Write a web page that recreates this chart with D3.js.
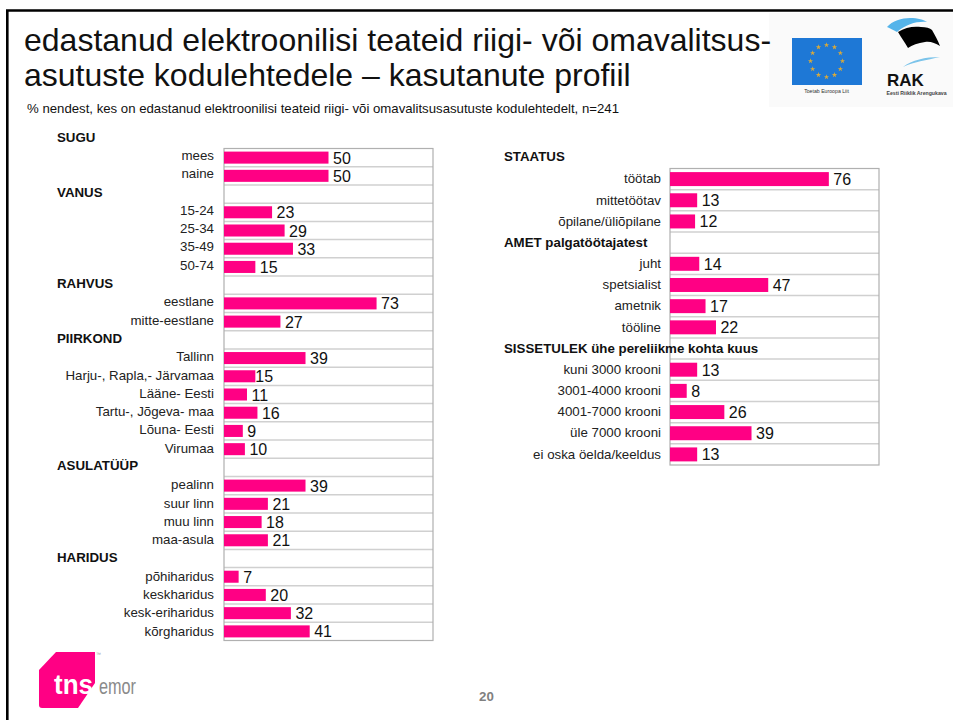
<!DOCTYPE html>
<html><head><meta charset="utf-8">
<script src="https://cdn.jsdelivr.net/npm/d3@7/dist/d3.min.js"></script>
<style>html,body{margin:0;background:#fff}svg{display:block;font-family:"Liberation Sans",Arial,sans-serif}</style>
</head><body><div id="c"></div>
<script>
const leftCategories=["mees","naine","VANUS","15-24","25-34","35-49","50-74","RAHVUS","eestlane","mitte-eestlane","PIIRKOND","Tallinn","Harju-, Rapla,- Järvamaa","Lääne- Eesti","Tartu-, Jõgeva- maa","Lõuna- Eesti","Virumaa","ASULATÜÜP","pealinn","suur linn","muu linn","maa-asula","HARIDUS","põhiharidus","keskharidus","kesk-eriharidus","kõrgharidus"];
const leftValues=[50,50,null,23,29,33,15,null,73,27,null,39,15,11,16,9,10,null,39,21,18,21,null,7,20,32,41];
const rightCategories=["töötab","mittetöötav","õpilane/üliõpilane","AMET palgatöötajatest","juht","spetsialist","ametnik","tööline","SISSETULEK ühe pereliikme kohta kuus","kuni 3000 krooni","3001-4000 krooni","4001-7000 krooni","üle 7000 krooni","ei oska öelda/keeldus"];
const rightValues=[76,13,12,null,14,47,17,22,null,13,8,26,39,13];
const pageTitle=["edastanud elektroonilisi teateid riigi- või omavalitsus-","asutuste kodulehtedele – kasutanute profiil"];
const subtitle="% nendest, kes on edastanud elektroonilisi teateid riigi- või omavalitsusasutuste kodulehtedelt, n=241";
const extraHeaders=["SUGU","STAATUS"];

const svg=d3.select("#c").append("svg").attr("width",953).attr("height",720);
svg.append("rect").attr("width",953).attr("height",720).attr("fill","#fff");
svg.append("path").attr("d","M7.3,720V10.5H953").attr("fill","none").attr("stroke","#000").attr("stroke-width",2.6);

// logo block
const logos=svg.append("g");
logos.append("rect").attr("x",769).attr("y",13).attr("width",184).attr("height",94).attr("fill","#fafafa");
logos.append("rect").attr("x",792).attr("y",38).attr("width",70).attr("height",47).attr("fill","#1e78d6");
const stars=d3.range(12).map(i=>i*Math.PI/6);
logos.append("g").selectAll("path").data(stars).join("path")
  .attr("d",d3.symbol(d3.symbolStar,9))
  .attr("transform",d=>`translate(${826.5+16*Math.sin(d)},${61-16*Math.cos(d)})`).attr("fill","#d9a93a");
logos.append("text").attr("x",826.5).attr("y",93).attr("text-anchor","middle").attr("font-size",5.2).attr("fill","#333").text("Toetab Euroopa Liit");
logos.append("path").attr("d","M887,27C892,21 902,18 910,18C918,18 924,20 927,22C918,21 906,24 897,32C893,30 890,28 887,27Z").attr("fill","#55b4ea");
logos.append("path").attr("d","M898,32C905,27 914,26 921,27C926,27 930,28 932,30C935,35 938,41 940,46C935,43 930,41 925,42C918,43 912,45 908,48C905,43 901,37 898,32Z").attr("fill","#000");
logos.append("path").attr("d","M903,67C912,60 925,57 940,57C927,60 913,62 903,67Z").attr("fill","#7cc4ea");
logos.append("text").attr("x",887).attr("y",86).attr("font-size",17).attr("font-weight","bold").attr("fill","#111").text("RAK");
logos.append("text").attr("x",886.5).attr("y",94.8).attr("font-size",5.2).attr("font-weight","bold").attr("fill","#444").text("Eesti Riiklik Arengukava");

svg.append("g").selectAll("text").data(pageTitle).join("text")
  .attr("x",24).attr("y",(d,i)=>51+i*35).attr("font-size",32).attr("fill","#111").text(d=>d);
svg.append("text").attr("x",27).attr("y",113).attr("font-size",13.2).attr("fill","#111").text(subtitle);

// the reference places a few value labels closer to their bars
const valueNudge={"Harju-, Rapla,- Järvamaa":-4.5};

function panel(cats,vals,x0,top,bottom,headerX,labelTop,labelPad,headerDy){
  const x=d3.scaleLinear().domain([0,100]).range([x0,x0+209]);
  const y=d3.scaleBand().domain(cats).range([top,bottom]);
  const yLabel=d3.scaleBand().domain(cats).range([labelTop,bottom]);
  const g=svg.append("g");
  g.append("g").selectAll("line").data(cats.slice(1)).join("line")
    .attr("x1",x(0)).attr("x2",x(100)).attr("y1",d=>y(d)).attr("y2",d=>y(d))
    .attr("stroke","#d0d0d0").attr("stroke-width",1.5);
  g.append("rect").attr("x",x(0)).attr("y",top).attr("width",x(100)-x(0)).attr("height",bottom-top)
    .attr("fill","none").attr("stroke","#b0b0b0").attr("stroke-width",1.2);
  const rows=cats.map((c,i)=>({c,v:vals[i]}));
  const data=rows.filter(d=>d.v!==null);
  const bh=y.bandwidth()*0.66;
  g.append("g").selectAll("rect").data(data).join("rect")
    .attr("x",x(0)).attr("y",d=>y(d.c)+(y.bandwidth()-bh)/2).attr("width",d=>x(d.v)-x(0)).attr("height",bh)
    .attr("fill","#ff0084");
  g.append("g").selectAll("text").data(data).join("text")
    .attr("x",d=>x(d.v)+4.5+(valueNudge[d.c]||0)).attr("y",d=>y(d.c)+y.bandwidth()/2+6).attr("font-size",16).attr("fill","#111").text(d=>d.v);
  const axis=d3.axisLeft(yLabel).tickSize(0).tickPadding(labelPad).tickFormat(d=>vals[cats.indexOf(d)]===null?"":d);
  const ag=g.append("g").attr("transform",`translate(${x0},0)`).call(axis);
  ag.select(".domain").remove();
  ag.selectAll("text").attr("font-size",13.3).attr("font-family","'Liberation Sans',Arial,sans-serif").attr("fill","#222");
  g.append("g").selectAll("text").data(rows.filter(d=>d.v===null)).join("text")
    .attr("x",headerX).attr("y",d=>y(d.c)+y.bandwidth()/2+headerDy).attr("font-size",13.3).attr("font-weight","bold").attr("fill","#111").text(d=>d.c);
}
panel(leftCategories,leftValues,224,148.5,640.5,57,146.6,10,3);
panel(rightCategories,rightValues,670,168.5,465,504,168.5,9,4);
svg.append("text").attr("x",57).attr("y",142).attr("font-size",13.3).attr("font-weight","bold").attr("fill","#111").text(extraHeaders[0]);
svg.append("text").attr("x",504).attr("y",161).attr("font-size",13.3).attr("font-weight","bold").attr("fill","#111").text(extraHeaders[1]);

// tns emor logo
svg.append("path").attr("d","M39,670L56,652H95V683L78,708H42Q39,708 39,705Z").attr("fill","#ff0084");
svg.append("text").attr("x",54).attr("y",694).attr("font-size",27).attr("font-weight","bold").attr("fill","#fff").attr("textLength",39).attr("lengthAdjust","spacingAndGlyphs").text("tns");
svg.append("text").attr("x",96).attr("y",656).attr("font-size",5).attr("fill","#999").text("™");
svg.append("text").attr("x",99).attr("y",694).attr("font-size",22).attr("fill","#8a8a8a").attr("textLength",37).attr("lengthAdjust","spacingAndGlyphs").text("emor");
svg.append("text").attr("x",486.5).attr("y",700.5).attr("text-anchor","middle").attr("font-size",13.3).attr("font-weight","bold").attr("fill","#808080").text("20");
</script></body></html>
